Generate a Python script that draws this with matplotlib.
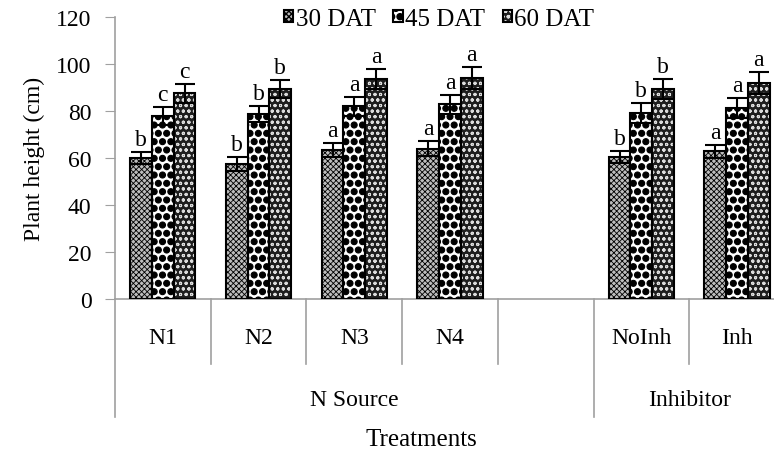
"""Plant height by treatment (N source / inhibitor), grouped bars with hatches."""

import matplotlib
matplotlib.use("Agg")
import matplotlib.hatch
import matplotlib.pyplot as plt
import matplotlib.transforms as mtransforms
import numpy as np
from matplotlib.legend_handler import HandlerTuple

plt.rcParams["font.family"] = ["Liberation Serif", "DejaVu Serif"]
plt.rcParams["font.size"] = 17
# bigger filled dots for the "." hatch (45 DAT pattern)
matplotlib.hatch.SmallFilledCircles.size = 0.36

categories = ["N1", "N2", "N3", "N4", "", "NoInh", "Inh"]
groups = ["N Source", "Inhibitor"]
group_spans = [(0, 4), (5, 6)]  # first and last category index of each group
series = ["30 DAT", "45 DAT", "60 DAT"]

dat30 = [60.0, 57.5, 63.5, 64.0, np.nan, 60.3, 62.8]
dat45 = [78.0, 78.7, 82.0, 82.8, np.nan, 79.3, 81.4]
dat60 = [87.5, 89.5, 93.6, 94.0, np.nan, 89.5, 91.9]
err30 = [2.7, 3.0, 3.0, 3.1, np.nan, 2.6, 2.8]
err45 = [3.8, 3.4, 4.0, 4.1, np.nan, 4.2, 4.2]
err60 = [4.0, 3.9, 4.4, 4.7, np.nan, 4.2, 4.7]
let30 = ["b", "b", "a", "a", "", "b", "a"]
let45 = ["c", "b", "a", "a", "", "b", "a"]
let60 = ["c", "b", "a", "a", "", "b", "a"]

values = [dat30, dat45, dat60]
errors = [err30, err45, err60]
letters = [let30, let45, let60]

# style per series: face colour, hatch, hatch colour, hatch linewidth
styles = [
    ("#bdbdbd", "xxxxxx", "black", 0.6),
    ("white", "..", "black", 0.8),
    ("#1e1e1e", "ooo", "#dcdcdc", 0.75),
]

W, H = 774, 456
fig = plt.figure(figsize=(W / 100, H / 100), dpi=100)
ax = fig.add_axes([115 / W, 1 - 300 / H, 1 - 115 / W, (300 - 18) / H])

x = np.arange(len(categories))
bw = 0.227
handles = []
for k, (vals, errs, lets) in enumerate(zip(values, errors, letters)):
    face, hatch, hcol, hlw = styles[k]
    pos = x + (k - 1) * bw
    with plt.rc_context({"hatch.linewidth": hlw}):
        fill = ax.bar(pos, vals, bw, color=face, edgecolor=hcol, hatch=hatch,
                      linewidth=0, zorder=2)
    edge = ax.bar(pos, vals, bw, fill=False, edgecolor="black", linewidth=1.5, zorder=3)
    ax.errorbar(pos, vals, yerr=errs, fmt="none", ecolor="black", elinewidth=1.5,
                capsize=7, capthick=1.5, zorder=4)
    for xi, v, e, t in zip(pos, vals, errs, lets):
        if t:
            ax.text(xi, v + e + 0.8, t, ha="center", va="bottom", fontsize=17)
    handles.append((fill[0], edge[0]))

ax.set_xlim(-0.5, -0.5 + (W - 115) / 95.7)
ax.set_ylim(0, 120)
ax.set_yticks(np.arange(0, 121, 20))
ax.tick_params(axis="y", length=7, color="#a0a0a0", pad=10)
ax.tick_params(axis="x", length=0, labelbottom=False)
for s in ["top", "right"]:
    ax.spines[s].set_visible(False)
for s in ["left", "bottom"]:
    ax.spines[s].set_color("#a0a0a0")
    ax.spines[s].set_linewidth(1.2)
ax.set_ylabel("Plant height (cm)", labelpad=8)

# category and group axis below the plot
trans = mtransforms.blended_transform_factory(ax.transData, ax.transAxes)
group_edges = [a - 0.5 for a, _ in group_spans] + [group_spans[-1][1] + 0.5]
for i in range(len(categories) + 1):
    xs = i - 0.5
    ax.plot([xs, xs], [0, -0.418 if xs in group_edges else -0.232], transform=trans,
            color="#a0a0a0", lw=1.2, clip_on=False)
for i, c in enumerate(categories):
    ax.text(i, -0.135, c, transform=trans, ha="center", va="center")
for g, (a, b) in zip(groups, group_spans):
    ax.text((a + b) / 2, -0.355, g, transform=trans, ha="center", va="center")
fig.text(0.5 * (115 / W + 1) - 0.03, 1 - 440 / H, "Treatments", ha="center", va="center",
         fontsize=18)

fig.legend(handles, series, loc="center", bbox_to_anchor=(439 / W, 1 - 20 / H), ncol=3,
           frameon=False, fontsize=18, handlelength=0.38, handleheight=0.38,
           handletextpad=0.1, columnspacing=0.7, borderaxespad=0, borderpad=0,
           handler_map={tuple: HandlerTuple(ndivide=1)})

fig.savefig("out.png", dpi=100)
